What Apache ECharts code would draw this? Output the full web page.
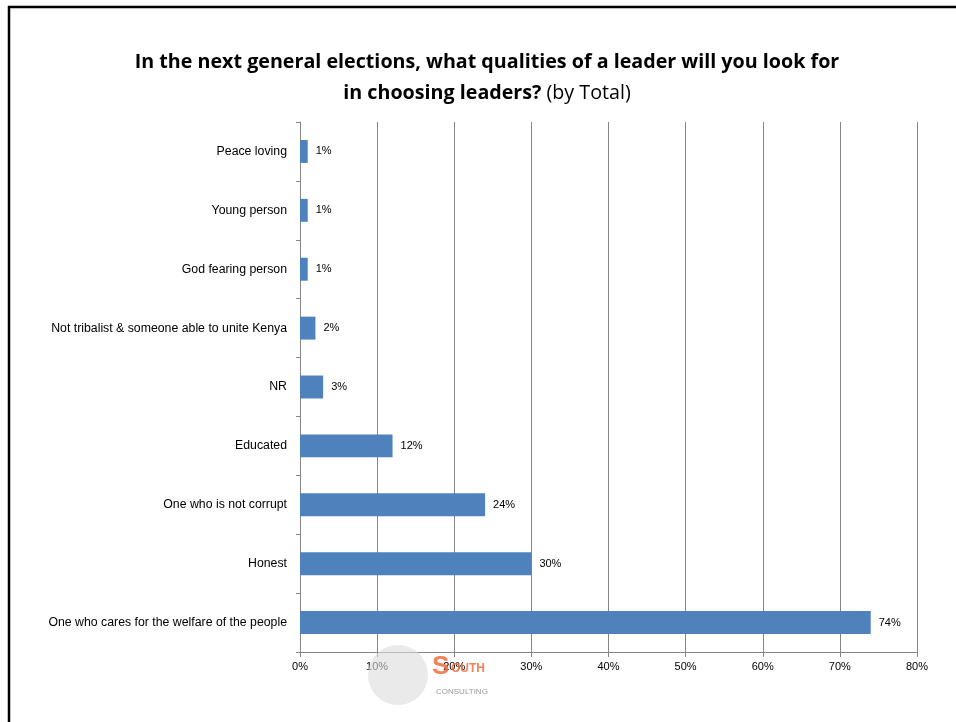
<!DOCTYPE html>
<html>
<head>
<meta charset="utf-8">
<script src="https://cdn.jsdelivr.net/npm/echarts@6/dist/echarts.min.js"></script>
<style>html,body{margin:0;padding:0;background:#fff}#c{width:956px;height:722px}</style>
</head>
<body>
<div id="c"></div>
<script>
var categories = [
  "One who cares for the welfare of the people",
  "Honest",
  "One who is not corrupt",
  "Educated",
  "NR",
  "Not tribalist & someone able to unite Kenya",
  "God fearing person",
  "Young person",
  "Peace loving"
];
var values = [74, 30, 24, 12, 3, 2, 1, 1, 1];
var tickMax = 80;
var tickStep = 10;

var FONT = "Liberation Sans";
var TFONT = "Open Sans";
var chart = echarts.init(document.getElementById('c'), null, {renderer: 'canvas'});
chart.setOption({
  animation: false,
  backgroundColor: '#fff',
  textStyle: {fontFamily: FONT},
  title: {
    text: '{b|In the next general elections, what qualities of a leader will you look for}\n{b|in choosing leaders?} {n|(by Total)}',
    left: 482, top: 42, textAlign: 'center',
    textStyle: {
      rich: {
        b: {fontFamily: TFONT, fontWeight: 'bold', fontSize: 19.7, color: '#000', lineHeight: 31},
        n: {fontFamily: TFONT, fontWeight: 'normal', fontSize: 19.7, color: '#000', lineHeight: 31}
      }
    }
  },
  grid: {left: 300, right: 39, top: 122, bottom: 70, containLabel: false},
  xAxis: {
    type: 'value', min: 0, max: tickMax, interval: tickStep,
    axisLine: {show: true, lineStyle: {color: '#868686'}},
    axisTick: {show: true, length: 5, lineStyle: {color: '#868686'}},
    splitLine: {show: true, lineStyle: {color: '#868686', width: 1}},
    axisLabel: {formatter: '{value}%', color: '#000', fontSize: 11, margin: 9, fontFamily: FONT}
  },
  yAxis: {
    type: 'category', data: categories,
    axisLine: {show: true, lineStyle: {color: '#868686'}},
    axisTick: {show: true, length: 4, lineStyle: {color: '#868686'}},
    axisLabel: {color: '#000', fontSize: 12.3, margin: 13, fontFamily: FONT}
  },
  series: [{
    type: 'bar', data: values, barWidth: '39%',
    itemStyle: {color: '#4f81bd'},
    label: {show: true, position: 'right', formatter: '{c}%', color: '#000', fontSize: 11, distance: 8, fontFamily: FONT}
  }],
  graphic: [
    {type: 'rect', shape: {x: 9, y: 7, width: 960, height: 730}, style: {fill: 'none', stroke: '#000', lineWidth: 2.5}, z: 100},
    {type: 'circle', shape: {cx: 398, cy: 675, r: 30}, style: {fill: '#dcdcdc', opacity: 0.6}, z: 50},
    {type: 'text', left: 432, top: 654, style: {text: 'S', fill: '#f26b3a', font: 'bold 26px ' + FONT, opacity: 0.85}, z: 51},
    {type: 'text', left: 451, top: 663, style: {text: 'OUTH', fill: '#f26b3a', font: 'bold 12px ' + FONT, opacity: 0.85}, z: 51},
    {type: 'text', left: 436, top: 688, style: {text: 'CONSULTING', fill: '#9a9a9a', font: '8px ' + FONT}, z: 51}
  ]
});
</script>
</body>
</html>
